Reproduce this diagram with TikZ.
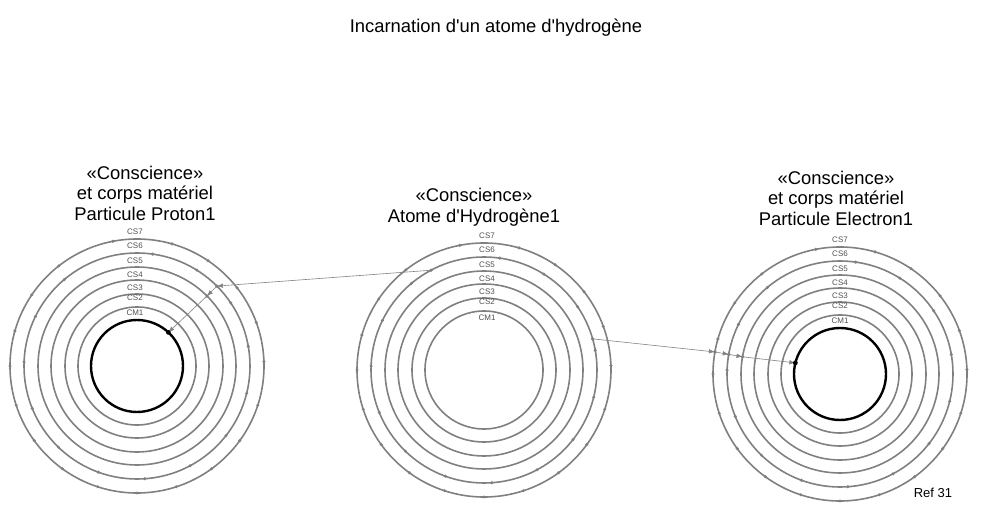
\documentclass[tikz,border=0pt]{standalone}
\usepackage{fontspec}
\setmainfont{Liberation Sans}
\usetikzlibrary{arrows.meta}
\definecolor{ringc}{RGB}{128,128,128}
\definecolor{lblc}{RGB}{80,80,80}
\definecolor{connc}{RGB}{130,130,130}
\begin{document}
\begin{tikzpicture}[x=1pt,y=-1pt,
  ring/.style={circle,draw=ringc,line width=1.6pt,minimum size=#1,inner sep=0pt,outer sep=0pt},
  core/.style={circle,draw=black,line width=2.4pt,minimum size=#1,inner sep=0pt,outer sep=0pt},
  lbl/.style={inner sep=0pt,text=lblc,font=\fontsize{8}{8}\selectfont},
  head/.style={align=center,inner sep=0pt,font=\fontsize{18.4}{20.5}\selectfont},
  conn/.style={draw=connc,line width=0.6pt,-{Latex[length=6pt,width=4.5pt]}},
]
\useasboundingbox (0,0) rectangle (985,521);

% title
\node[inner sep=0pt,font=\fontsize{18.4}{20}\selectfont] (title) at (496,28) {Incarnation d\textquotesingle un atome d\textquotesingle hydrogène};

% headings
\node[head] (hL) at (145,193) {«Conscience»\\et corps matériel\\Particule Proton1};
\node[head] (hM) at (474,207) {«Conscience»\\Atome d\textquotesingle Hydrogène1};
\node[head] (hR) at (836,198) {«Conscience»\\et corps matériel\\Particule Electron1};

% left ring set
\foreach \n/\d in {7/254,6/226,5/198,4/172,3/144,2/118}
  \node[ring=\d pt] (L\n) at (137,366) {};
\node[core=92pt] (L1) at (137,366) {};
% middle ring set
\foreach \n/\d in {7/254,6/226,5/198,4/172,3/144,2/118}
  \node[ring=\d pt] (M\n) at (484,370) {};
% right ring set
\foreach \n/\d in {7/254,6/226,5/198,4/172,3/144,2/118}
  \node[ring=\d pt] (R\n) at (840,374) {};
\node[core=92pt] (R1) at (840,374) {};

% ring labels
\foreach \n/\o in {7/134,6/120,5/105,4/91,3/78,2/68} {
  \node[lbl] (Lt\n) at (135,366-\o) {CS\n};
  \node[lbl] (Mt\n) at (487,370-\o) {CS\n};
  \node[lbl] (Rt\n) at (840,374-\o) {CS\n};
}
\node[lbl] (Lt1) at (135,313) {CM1};
\node[lbl] (Mt1) at (487,318) {CM1};
\node[lbl] (Rt1) at (840,321) {CM1};

% small dots on outer rings
\foreach \p in {L,M,R} {
  \foreach \a in {2,20,38,56,74,101,128,146,164,180,198,216,234,252,270,288,306,324,342}
    \fill[ringc] (\p7.\a) circle (1.7);
  \foreach \a in {10,34,58,82,130,154,178,202,226,250,274,298,322,346}
    \fill[ringc] (\p6.\a) circle (1.7);
}

% connectors toward the proton
\draw[conn] (M6.118) -- (L6.45);
\draw[conn] (L6.45) -- (L5.45);
\draw[conn] (L5.45) -- (L1.47);
\fill[ringc] (M6.118) circle (1.9);
\fill[ringc] (L6.45) circle (1.9);
\fill[ringc] (L5.45) circle (1.9);
\fill[black] (L1.47) circle (2.4);

% connectors toward the electron
\draw[conn] (M6.16) -- (R7.170);
\draw[conn] (R7.170) -- (R6.170);
\draw[conn] (R6.170) -- (R5.170);
\draw[conn] (R5.170) -- (R1.166);
\fill[ringc] (M6.16) circle (1.9);
\fill[ringc] (R7.170) circle (1.9);
\fill[ringc] (R6.170) circle (1.9);
\fill[ringc] (R5.170) circle (1.9);
\fill[black] (R1.166) circle (2.4);

% reference
\node[inner sep=0pt,font=\fontsize{13}{15}\selectfont] (ref) at (933,493) {Ref 31};
\end{tikzpicture}
\end{document}
